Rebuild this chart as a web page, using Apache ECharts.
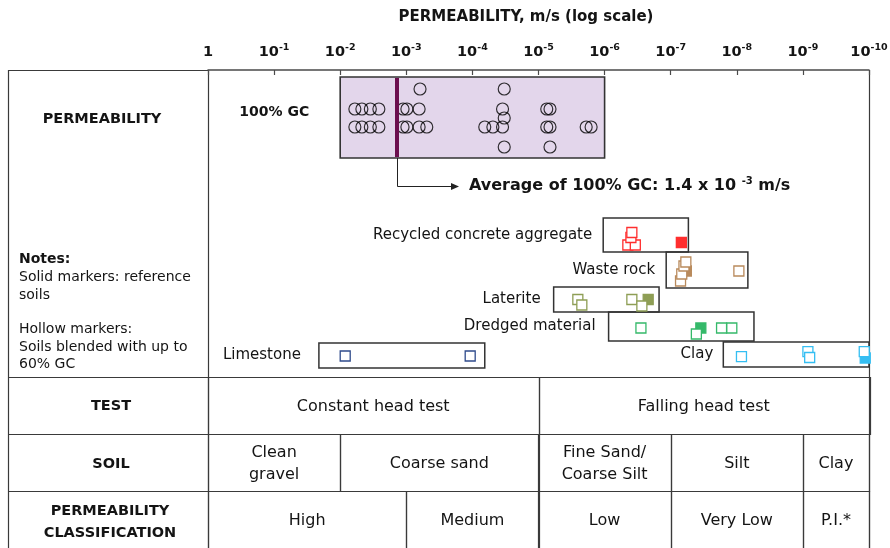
<!DOCTYPE html>
<html>
<head>
<meta charset="utf-8">
<script src="https://cdn.jsdelivr.net/npm/echarts@6/dist/echarts.min.js"></script>
<style>html,body{margin:0;padding:0;background:#fff}#c{width:890px;height:548px}</style>
</head>
<body>
<div id="c"></div>
<script>
const FONT = 'DejaVu Sans';
const INK = '#141414';
const LINE = '#3a3a3a';

// axis decades: tick n means k = 10^-n m/s
const decades = [0, 1, 2, 3, 4, 5, 6, 7, 8, 9, 10];

// 100% GC permeability results (m/s), one array per marker row of the GC band
const gcRow1  = [6.2e-4, 3.3e-5];
const gcRow2  = [6.0e-3, 4.7e-3, 3.5e-3, 2.6e-3, 1.12e-3, 9.8e-4, 6.4e-4, 3.5e-5, 7.5e-6, 6.7e-6];
const gcRow2b = [3.3e-5];
const gcRow3  = [6.0e-3, 4.7e-3, 3.5e-3, 2.6e-3, 1.12e-3, 9.8e-4, 6.4e-4, 4.9e-4, 6.5e-5, 4.9e-5, 3.5e-5, 7.5e-6, 6.7e-6, 1.9e-6, 1.6e-6];
const gcRow4  = [3.3e-5, 6.7e-6];
const gcRange = [1e-2, 1e-6];
const gcAverage = 1.4e-3;

// material ranges (m/s)
const materials = ['Recycled concrete aggregate', 'Waste rock', 'Laterite', 'Dredged material', 'Clay', 'Limestone'];
const rangeHigh = [1.05e-6, 1.17e-7, 5.9e-6, 8.7e-7, 1.6e-8, 2.1e-2];
const rangeLow  = [5.4e-8, 6.8e-9, 1.5e-7, 5.5e-9, 1.0e-10, 6.5e-5];

// markers: [permeability m/s, vertical slot in panel]
const rcaBlend       = [[4.45e-7, 175], [3.43e-7, 175], [4.0e-7, 167.5], [3.87e-7, 162.5]];
const rcaRef         = [[6.9e-8, 172.5]];
const wasteRef       = [[5.8e-8, 201]];
const wasteBlend     = [[7.1e-8, 211], [6.8e-8, 204], [6.3e-8, 196], [5.9e-8, 192], [9.3e-9, 201]];
const lateriteRef    = [[2.19e-7, 229.5]];
const lateriteBlend  = [[3.87e-7, 229.5], [2.54e-6, 229.5], [2.21e-6, 235], [2.73e-7, 236]];
const dredgedRef     = [[3.5e-8, 258]];
const dredgedBlend   = [[2.82e-7, 258], [4.09e-8, 264], [1.70e-8, 258], [1.19e-8, 258]];
const clayRef        = [[1.14e-10, 288]];
const clayBlend      = [[8.5e-9, 286.7], [8.4e-10, 281.7], [7.9e-10, 287.5], [1.18e-10, 281.7]];
const limestoneBlend = [[8.4e-3, 286], [1.08e-4, 286]];

// table rows: [k left edge, k right edge]
const testEdges  = [[1, 1e-5], [1e-5, 1e-10]];
const testLabels = ['Constant head test', 'Falling head test'];
const soilEdges  = [[1, 1e-2], [1e-2, 1e-5], [1e-5, 1e-7], [1e-7, 1e-9], [1e-9, 1e-10]];
const soilLabels = ['Clean\ngravel', 'Coarse sand', 'Fine Sand/\nCoarse Silt', 'Silt', 'Clay'];
const classEdges  = [[1, 1e-3], [1e-3, 1e-5], [1e-5, 1e-7], [1e-7, 1e-9], [1e-9, 1e-10]];
const classLabels = ['High', 'Medium', 'Low', 'Very Low', 'P.I.*'];

// ---- layout (not data) ----
const boxTop    = [148, 182, 217, 242, 272, 273];
const boxBottom = [182, 218, 242, 271, 297, 298];
const labelGap  = [11, 11, 13, 13, 10, 18];
const gcRowSlot = { r1: 19, r2: 39, r2b: 48, r3: 57, r4: 77 };
const gcBand = [7, 88];
const colors = { red: '#FF2E2E', brown: '#B98A5C', olive: '#8E9E55', green: '#35B96A', cyan: '#35BEF2', navy: '#2F4B8C' };

const xv = k => -Math.log10(k) + 0;

const chart = echarts.init(document.getElementById('c'), null, { renderer: 'canvas' });

function txt(text, x, y, opt) {
  opt = opt || {};
  return {
    type: 'text', silent: true,
    style: Object.assign({
      text: text, x: x, y: y,
      fill: INK, fontFamily: FONT, fontSize: opt.size || 14, fontWeight: opt.bold ? 'bold' : 'normal',
      align: opt.align || 'center', verticalAlign: 'middle',
      textAlign: opt.align || 'center', textVerticalAlign: 'middle',
      lineHeight: opt.lh || 18
    }, opt.extra || {})
  };
}
function ln(x1, y1, x2, y2) {
  return { type: 'line', silent: true, shape: { x1, y1, x2, y2 }, style: { stroke: LINE, lineWidth: 1.2 } };
}

const gcCircles = [].concat(
  gcRow1.map(k => [xv(k), gcRowSlot.r1]),
  gcRow2.map(k => [xv(k), gcRowSlot.r2]),
  gcRow2b.map(k => [xv(k), gcRowSlot.r2b]),
  gcRow3.map(k => [xv(k), gcRowSlot.r3]),
  gcRow4.map(k => [xv(k), gcRowSlot.r4])
);

function squares(arr, color, solid) {
  return {
    type: 'scatter', xAxisIndex: 0, yAxisIndex: 0, silent: true, symbol: 'rect', symbolSize: 10,
    data: arr.map(d => [xv(d[0]), d[1]]),
    itemStyle: { color: solid ? color : '#ffffff', borderColor: color, borderWidth: 1.3, opacity: 1 },
    z: 4
  };
}

function tableSeries(edges, labels, row) {
  return {
    type: 'custom', xAxisIndex: 1, yAxisIndex: 1, silent: true,
    data: edges.map(e => [xv(e[0]), xv(e[1]), row]),
    renderItem: function (params, api) {
      const p0 = api.coord([api.value(0), api.value(2)]);
      const p1 = api.coord([api.value(1), api.value(2) + 1]);
      return {
        type: 'group', children: [
          { type: 'rect', shape: { x: Math.round(p0[0]) + 0.5, y: Math.round(p0[1]) + 0.5, width: Math.round(p1[0] - p0[0]), height: Math.round(p1[1] - p0[1]) },
            style: { fill: 'none', stroke: LINE, lineWidth: 1.2 } },
          txt(labels[params.dataIndex], (p0[0] + p1[0]) / 2, (p0[1] + p1[1]) / 2 + 1, { size: 16, lh: 22 })
        ]
      };
    }
  };
}

const option = {
  animation: false,
  backgroundColor: '#fff',
  title: {
    text: 'PERMEABILITY, m/s (log scale)', left: 521, top: 5, textAlign: 'center',
    textStyle: { fontFamily: FONT, fontSize: 15, fontWeight: 'bold', color: INK }
  },
  grid: [
    { left: 208, top: 70, width: 661, height: 307, containLabel: false, outerBoundsMode: 'none' },
    { left: 208, top: 377, width: 661, height: 171, containLabel: false, outerBoundsMode: 'none' }
  ],
  xAxis: [
    {
      gridIndex: 0, type: 'value', position: 'top', min: 0, max: 10, interval: 1,
      axisLine: { show: true, onZero: false, lineStyle: { color: '#4a4a4a', width: 1.5 } },
      axisTick: { show: true, inside: true, length: 5, lineStyle: { color: '#4a4a4a', width: 1.2 } },
      splitLine: { show: false },
      axisLabel: {
        show: true, margin: 9, showMinLabel: true, showMaxLabel: true, hideOverlap: false,
        formatter: v => decades.indexOf(v) === 0 ? '{b|1}' : '{b|10}{s|-' + v + '}',
        rich: {
          b: { fontFamily: FONT, fontSize: 14.5, fontWeight: 'bold', color: INK, lineHeight: 18 },
          s: { fontFamily: FONT, fontSize: 9.5, fontWeight: 'bold', color: INK, lineHeight: 11, verticalAlign: 'top' }
        }
      }
    },
    { gridIndex: 1, type: 'value', min: 0, max: 10, show: false }
  ],
  yAxis: [
    { gridIndex: 0, type: 'value', min: 0, max: 307, inverse: true, show: false },
    { gridIndex: 1, type: 'value', min: 0, max: 3, inverse: true, show: false }
  ],
  graphic: [
    ln(8, 70.5, 208, 70.5),
    ln(8.5, 70, 8.5, 548),
    ln(208.5, 70, 208.5, 548),
    ln(869.5, 70, 869.5, 548),
    ln(8, 377.5, 869, 377.5),
    ln(8, 434.5, 208, 434.5),
    ln(8, 491.5, 208, 491.5),
    txt('PERMEABILITY', 102, 119, { bold: true, size: 14.5 }),
    txt('TEST', 111, 406, { bold: true, size: 14.5 }),
    txt('SOIL', 111, 464, { bold: true, size: 14.5 }),
    txt('PERMEABILITY\nCLASSIFICATION', 110, 522, { bold: true, size: 14.5, lh: 22 }),
    txt('Notes:', 19, 259, { bold: true, size: 14, align: 'left' }),
    txt('Solid markers: reference\nsoils', 19, 286, { size: 14, align: 'left', lh: 18 }),
    txt('Hollow markers:\nSoils blended with up to\n60% GC', 19, 347, { size: 14, align: 'left', lh: 17.5 })
  ],
  series: [
    // GC band
    {
      type: 'custom', xAxisIndex: 0, yAxisIndex: 0, silent: true, z: 1,
      data: [[xv(gcRange[0]), xv(gcRange[1])]],
      renderItem: function (params, api) {
        const p0 = api.coord([api.value(0), gcBand[0]]);
        const p1 = api.coord([api.value(1), gcBand[1]]);
        return {
          type: 'group', children: [
            { type: 'rect', shape: { x: p0[0], y: p0[1], width: p1[0] - p0[0], height: p1[1] - p0[1] },
              style: { fill: '#E3D6EB', stroke: '#333', lineWidth: 1.6 } },
            txt('100% GC', p0[0] - 31, api.coord([0, 42])[1], { bold: true, size: 14, align: 'right' })
          ]
        };
      }
    },
    // GC sample circles
    {
      type: 'scatter', xAxisIndex: 0, yAxisIndex: 0, silent: true, z: 2,
      symbol: 'circle', symbolSize: 12, data: gcCircles,
      itemStyle: { color: 'rgba(0,0,0,0)', borderColor: '#000', borderWidth: 1.15 }
    },
    // GC average line + arrow + label
    {
      type: 'custom', xAxisIndex: 0, yAxisIndex: 0, silent: true, z: 3,
      data: [[xv(gcAverage)]],
      renderItem: function (params, api) {
        const top = api.coord([api.value(0), gcBand[0]]);
        const bot = api.coord([api.value(0), gcBand[1]]);
        const x = Math.round(top[0]);
        const yArrow = api.coord([0, 116])[1];
        const xEnd = x + 62;
        return {
          type: 'group', children: [
            { type: 'line', shape: { x1: x, y1: top[1] + 1, x2: x, y2: bot[1] - 1 }, style: { stroke: '#6B0E4E', lineWidth: 4 } },
            { type: 'polyline', shape: { points: [[x + 0.5, bot[1]], [x + 0.5, yArrow + 0.5], [xEnd - 6, yArrow + 0.5]] }, style: { stroke: '#222', lineWidth: 1, fill: 'none' } },
            { type: 'polygon', shape: { points: [[xEnd - 8, yArrow - 3], [xEnd, yArrow + 0.5], [xEnd - 8, yArrow + 4]] }, style: { fill: '#222' } },
            {
              type: 'text', silent: true,
              style: {
                text: '{b|Average of 100% GC: 1.4 x 10 }{s|-3}{b| m/s}', x: xEnd + 10, y: yArrow,
                align: 'left', verticalAlign: 'middle', textAlign: 'left', textVerticalAlign: 'middle',
                rich: {
                  b: { fontFamily: FONT, fontSize: 16, fontWeight: 'bold', fill: INK, color: INK, lineHeight: 20 },
                  s: { fontFamily: FONT, fontSize: 10, fontWeight: 'bold', fill: INK, color: INK, lineHeight: 12, verticalAlign: 'top' }
                }
              }
            }
          ]
        };
      }
    },
    // material range boxes + names
    {
      type: 'custom', xAxisIndex: 0, yAxisIndex: 0, silent: true, z: 1,
      data: materials.map((m, i) => [xv(rangeHigh[i]), xv(rangeLow[i])]),
      renderItem: function (params, api) {
        const i = params.dataIndex;
        const p0 = api.coord([api.value(0), boxTop[i]]);
        const p1 = api.coord([api.value(1), boxBottom[i]]);
        return {
          type: 'group', children: [
            { type: 'rect', shape: { x: p0[0], y: p0[1], width: p1[0] - p0[0], height: p1[1] - p0[1] },
              style: { fill: 'none', stroke: '#333', lineWidth: 1.5 } },
            txt(materials[i], p0[0] - labelGap[i], (p0[1] + p1[1]) / 2, { size: 15, align: 'right' })
          ]
        };
      }
    },
    squares(rcaBlend, colors.red, false),
    squares(rcaRef, colors.red, true),
    squares(wasteRef, colors.brown, true),
    squares(wasteBlend, colors.brown, false),
    squares(lateriteRef, colors.olive, true),
    squares(lateriteBlend, colors.olive, false),
    squares(dredgedRef, colors.green, true),
    squares(dredgedBlend, colors.green, false),
    squares(clayRef, colors.cyan, true),
    squares(clayBlend, colors.cyan, false),
    squares(limestoneBlend, colors.navy, false),
    // table
    tableSeries(testEdges, testLabels, 0),
    tableSeries(soilEdges, soilLabels, 1),
    tableSeries(classEdges, classLabels, 2)
  ]
};
chart.setOption(option);
</script>
</body>
</html>
